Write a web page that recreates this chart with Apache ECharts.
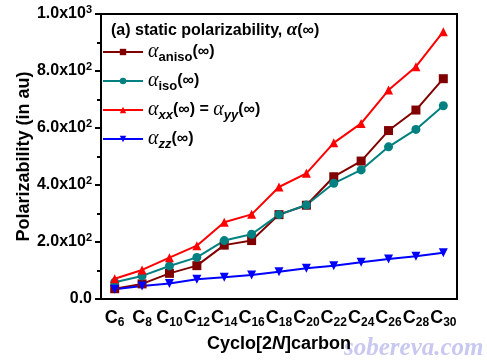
<!DOCTYPE html>
<html><head><meta charset="utf-8">
<script src="https://cdn.jsdelivr.net/npm/echarts@6/dist/echarts.min.js"></script>
<style>html,body{margin:0;padding:0;background:#fff}#c{width:487px;height:364px}</style>
</head><body><div id="c"></div>
<script>
const categories = ['6','8','10','12','14','16','18','20','22','24','26','28','30'];
const aniso = [36,53,90,117,189,205,296,329,429,484,591,663,773];
const iso = [59,81,116,146,205,227,296,330,406,453,534,595,678];
const xx = [71,102,145,187,269,297,393,441,548,616,733,815,938];
const zz = [34,46,54,69,76,84,96,108,117,129,140,150,162];
const yTicks = [0,200,400,600,800,1000];

const F = 'Liberation Sans, Arial, sans-serif';
const chart = echarts.init(document.getElementById('c'));
function yLab(v){
  if (v === 0) return '{m|0.0}';
  const e = Math.floor(Math.log10(v)+1e-9);
  const m = (v/Math.pow(10,e)).toFixed(1);
  return '{m|'+m+'x10}{sup|'+e+'}';
}
const legRich = {
  a:{fontFamily:'Liberation Serif, serif',fontStyle:'italic',fontSize:20,color:'#000'},
  s:{fontFamily:F,fontWeight:'bold',fontSize:13,color:'#000',padding:[10,0,0,0]},
  si:{fontFamily:F,fontWeight:'bold',fontStyle:'italic',fontSize:13,color:'#000',padding:[10,0,0,0]},
  n:{fontFamily:F,fontWeight:'bold',fontSize:16,color:'#000'}
};
const names = {
  aniso:'{a|α}{s|aniso}{n|(∞)}',
  iso:'{a|α}{s|iso}{n|(∞)}',
  xx:'{a|α}{si|xx}{n|(∞) = }{a|α}{si|yy}{n|(∞)}',
  zz:'{a|α}{si|zz}{n|(∞)}'
};
function ser(name,data,color,symbol,rot){
  return {name,type:'line',data,symbol,symbolSize:9,symbolRotate:rot||0,
    lineStyle:{color,width:2},itemStyle:{color},emphasis:{disabled:true},animation:false};
}
chart.setOption({
  backgroundColor:'#fff',
  animation:false,
  grid:{left:101,right:30,top:14,bottom:65,show:true,borderColor:'#000',borderWidth:2,backgroundColor:'transparent'},
  title:{text:'{b|(a) static polarizability, }{a|α}{b|(∞)}',left:106,top:16,
    textStyle:{rich:{b:{fontFamily:F,fontWeight:'bold',fontSize:16,color:'#000'},
      a:{fontFamily:'Liberation Serif, serif',fontStyle:'italic',fontSize:19,color:'#000'}}}},
  legend:{orient:'vertical',left:102,top:42,padding:0,itemWidth:40,itemHeight:8,itemGap:7.5,
    formatter:n=>names[n],textStyle:{rich:legRich},
    data:['aniso','iso','xx','zz']},
  xAxis:{type:'category',data:categories,boundaryGap:true,
    axisLine:{lineStyle:{color:'#000',width:2}},
    axisTick:{alignWithLabel:true,length:6,lineStyle:{width:2,color:'#000'}},
    axisLabel:{interval:0,margin:8,formatter:v=>'{c|C}{sub|'+v+'}',
      rich:{c:{fontFamily:F,fontWeight:'bold',fontSize:18,color:'#000'},
        sub:{fontFamily:F,fontWeight:'bold',fontSize:12,color:'#000',padding:[10,0,0,0]}}},
    name:'{t|Cyclo[2}{i|N}{t|]carbon}',nameLocation:'middle',nameGap:36,
    nameTextStyle:{rich:{t:{fontFamily:F,fontWeight:'bold',fontSize:18,color:'#000'},
      i:{fontFamily:F,fontWeight:'bold',fontStyle:'italic',fontSize:18,color:'#000'}}}},
  yAxis:{type:'value',min:0,max:1000,interval:200,
    axisLine:{show:true,lineStyle:{color:'#000',width:2}},
    axisTick:{show:true,length:6,lineStyle:{width:2,color:'#000'}},
    minorTick:{show:true,splitNumber:2,length:4,lineStyle:{width:2,color:'#000'}},
    splitLine:{show:false},
    axisLabel:{margin:9,formatter:v=>yLab(v),
      rich:{m:{fontFamily:F,fontWeight:'bold',fontSize:16,color:'#000'},
        sup:{fontFamily:F,fontWeight:'bold',fontSize:11,color:'#000',padding:[0,0,9,0]}}},
    name:'Polarizability (in au)',nameLocation:'middle',nameGap:68,nameMoveOverlap:false,
    nameTextStyle:{fontFamily:F,fontWeight:'bold',fontSize:18,color:'#000'}},
  graphic:[{type:'text',left:344,top:336,style:{text:'sobereva.com',
    font:'italic bold 25px "Liberation Serif", serif',fill:'#c8c8f0'}}],
  series:[
    ser('aniso',aniso,'#800000','rect'),
    ser('iso',iso,'#008080','circle'),
    ser('xx',xx,'#ff0000','triangle'),
    ser('zz',zz,'#0000ff','triangle',180)
  ]
});
</script></body></html>
